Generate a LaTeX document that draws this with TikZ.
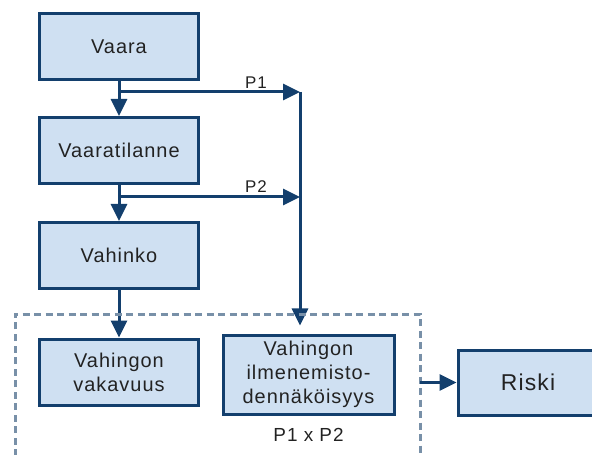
\documentclass[tikz,border=0pt]{standalone}
\usepackage{fontspec}
\setmainfont{Liberation Sans}[LetterSpace=5]
\usetikzlibrary{arrows.meta}
\definecolor{boxfill}{HTML}{CFE0F2}
\definecolor{navy}{HTML}{133F6D}
\definecolor{dashgray}{HTML}{7890A8}
\definecolor{ink}{HTML}{222222}
\begin{document}
\begin{tikzpicture}[x=1bp,y=-1bp,
  stepbox/.style={draw=navy, fill=boxfill, line width=3bp, inner sep=0pt,
    minimum width=158bp, minimum height=66bp, align=center, text=ink,
    font=\fontsize{20}{24}\selectfont},
  flow/.style={draw=navy, line width=3bp, -{Triangle[length=17bp,width=16bp]}},
  lbl/.style={text=ink, inner sep=0pt, anchor=base},
  group/.style={draw=dashgray, line width=3bp, dash pattern=on 7bp off 4.5bp}]
\useasboundingbox (0,0) rectangle (592,455);

% main chain
\node[stepbox] (vaara) at (119,46.5) {Vaara};
\node[stepbox] (tilanne) at (119,150.5) {Vaaratilanne};
\node[stepbox] (vahinko) at (119,255.5) {Vahinko};
\node[stepbox] (vakavuus) at (119,372) {Vahingon\\vakavuus};
\node[stepbox, minimum width=171bp, minimum height=79bp] (todnak) at (308.5,374.5)
  {Vahingon\\ilmenemisto-\\dennäköisyys};
\node[stepbox, minimum width=140bp, minimum height=65bp,
  font=\fontsize{23}{28}\selectfont] (riski) at (528,382.5) {Riski};

% branch points and collector line
\coordinate (j1) at (119,92);
\coordinate (j2) at (119,197);
\coordinate (c1) at (300,92);
\coordinate (c2) at (300,197);

\draw[flow] (vaara) -- (tilanne);
\draw[flow] (tilanne) -- (vahinko);
\draw[flow] (vahinko) -- (vakavuus);
\draw[flow] (j1) -- (c1);
\draw[flow] (j2) -- (c2);
\draw[flow, shorten >=8bp] (c1) -- (c1 |- todnak.north);

\node[lbl, font=\fontsize{17}{19}\selectfont] (p1) at (256,89) {P1};
\node[lbl, font=\fontsize{17}{19}\selectfont] (p2) at (256,193) {P2};
\node[lbl, font=\fontsize{19}{22}\selectfont] (p12) at (308.5,441) {P1 x P2};

% dashed group around the two outcome boxes
\coordinate (g1) at (15,456);
\coordinate (g2) at (15,314);
\coordinate (g3) at (420,314);
\coordinate (g4) at (420,456);
\coordinate (gout) at (420,382.5);
\draw[group] (g1) -- (g2) -- (g3) -- (g4);
\draw[flow] (gout) -- (riski);
\end{tikzpicture}
\end{document}
